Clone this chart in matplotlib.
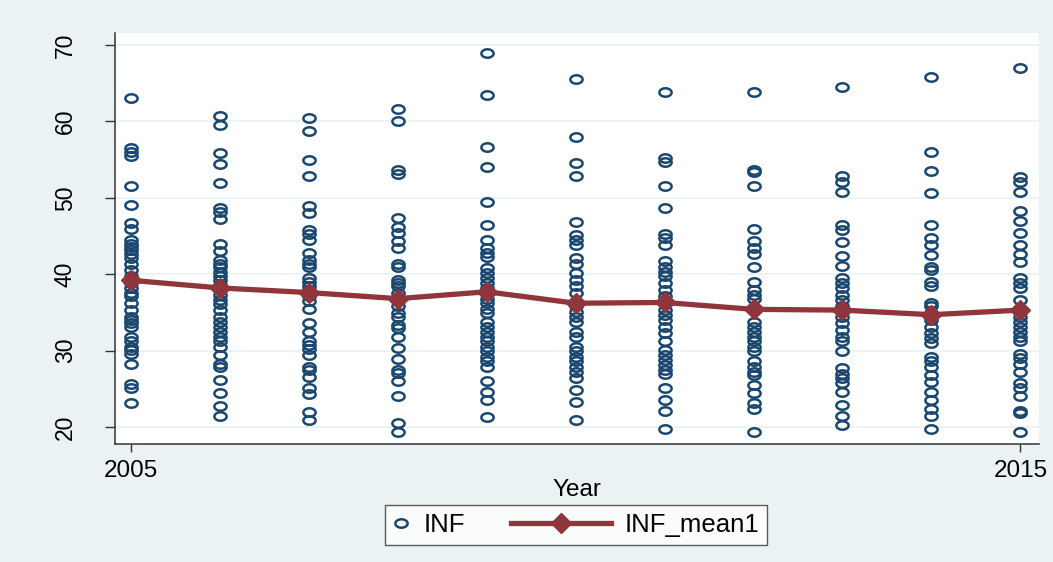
import matplotlib
matplotlib.use("Agg")
import matplotlib.pyplot as plt
import numpy as np
from matplotlib.path import Path
from matplotlib.legend_handler import HandlerLine2D

years = [2005, 2006, 2007, 2008, 2009, 2010, 2011, 2012, 2013, 2014, 2015]

inf_2005 = [63.1, 56.5, 56.0, 55.5, 51.5, 49.0, 46.7, 45.9, 44.5, 44.0, 43.6, 43.2, 42.7,
            42.1, 41.4, 40.5, 39.7, 38.8, 38.2, 37.5, 37.1, 36.2, 35.3, 34.4, 34.0, 33.6,
            33.1, 31.8, 31.2, 30.5, 30.1, 29.6, 28.2, 25.6, 25.1, 23.1]
inf_2006 = [60.7, 59.5, 55.8, 54.4, 52.0, 48.6, 48.2, 47.2, 43.9, 43.0, 41.9, 41.4, 40.9,
            40.3, 39.7, 39.2, 38.6, 37.9, 37.3, 36.6, 36.1, 35.3, 34.4, 33.8, 33.1, 32.5,
            31.8, 31.2, 30.5, 29.4, 28.3, 27.9, 26.2, 24.5, 22.7, 21.4]
inf_2007 = [60.4, 58.7, 54.9, 52.8, 48.9, 48.0, 45.8, 45.3, 44.5, 42.8, 41.9, 41.4, 40.9,
            39.5, 39.0, 38.5, 37.9, 37.1, 36.5, 35.4, 33.6, 32.5, 31.2, 30.7, 30.2, 29.4,
            27.9, 27.5, 26.6, 25.1, 24.3, 22.0, 20.9]
inf_2008 = [61.6, 60.1, 53.6, 53.1, 47.3, 46.2, 45.4, 44.3, 43.4, 41.4, 40.9, 39.2, 38.8,
            38.4, 37.5, 36.6, 35.8, 34.9, 34.4, 33.4, 32.9, 31.8, 30.3, 28.9, 27.4, 27.1,
            26.0, 24.1, 20.5, 19.4]
inf_2009 = [69.0, 63.5, 56.6, 54.0, 49.5, 46.4, 44.5, 43.4, 42.8, 42.2, 40.8, 40.1, 39.5,
            38.8, 38.2, 37.5, 36.8, 36.2, 35.5, 34.9, 33.8, 33.1, 32.5, 31.8, 31.2, 30.5,
            29.9, 29.2, 28.6, 27.9, 26.0, 24.6, 23.5, 21.3]
inf_2010 = [65.6, 58.0, 54.5, 52.9, 46.8, 45.1, 44.5, 43.8, 42.1, 41.4, 40.1, 39.2, 38.4,
            37.5, 35.8, 35.1, 34.4, 33.8, 32.5, 31.8, 30.5, 29.9, 29.2, 28.6, 27.9, 27.2,
            26.4, 24.8, 23.3, 20.9]
inf_2011 = [63.9, 55.2, 54.7, 51.5, 48.6, 45.3, 44.7, 43.8, 41.7, 41.0, 40.3, 39.7, 38.8,
            37.9, 37.1, 35.3, 34.7, 34.0, 33.1, 32.3, 31.2, 30.1, 29.4, 28.8, 28.1, 27.5,
            27.0, 25.1, 23.5, 22.1, 19.8]
inf_2012 = [63.8, 53.7, 53.4, 51.6, 45.9, 44.4, 43.4, 42.6, 41.0, 39.0, 37.9, 37.3, 36.7,
            33.8, 33.1, 32.5, 31.8, 31.2, 30.5, 29.9, 28.6, 27.9, 27.2, 26.8, 25.5, 24.4,
            23.1, 22.3, 19.3]
inf_2013 = [64.5, 52.8, 52.1, 50.7, 46.5, 45.8, 44.2, 42.4, 41.1, 39.5, 38.8, 38.2, 37.3,
            36.6, 35.8, 34.4, 33.6, 32.7, 31.8, 31.2, 29.9, 27.7, 27.0, 26.4, 25.7, 24.6,
            22.9, 21.4, 20.3]
inf_2014 = [65.8, 56.0, 53.5, 50.6, 46.4, 44.8, 43.8, 42.5, 41.0, 40.5, 39.0, 38.4, 36.2,
            35.8, 34.9, 34.0, 33.1, 32.3, 31.6, 31.0, 29.2, 28.6, 27.9, 26.8, 25.9, 24.6,
            23.5, 22.4, 21.4, 19.7]
inf_2015 = [67.0, 52.7, 52.1, 50.7, 48.3, 47.0, 45.4, 43.8, 42.7, 41.6, 39.5, 38.8, 38.2,
            36.6, 35.1, 34.4, 33.8, 33.1, 32.5, 31.8, 31.2, 29.6, 29.0, 28.3, 27.2, 25.8,
            25.1, 24.1, 22.1, 21.8, 19.3]

inf_by_year = [inf_2005, inf_2006, inf_2007, inf_2008, inf_2009, inf_2010,
               inf_2011, inf_2012, inf_2013, inf_2014, inf_2015]

inf_mean1 = [39.2, 38.2, 37.6, 36.8, 37.7, 36.2, 36.3, 35.4, 35.3, 34.7, 35.3]

y_ticks = [20, 30, 40, 50, 60, 70]
x_ticks = [2005, 2015]

bg = "#eaf2f3"
navy = "#1a476f"
maroon = "#90353b"

plt.rcParams['font.family'] = ['Liberation Sans', 'DejaVu Sans']


class LongLineHandler(HandlerLine2D):
    # draws the line further to the left than the (short) handle box
    def __init__(self, extra, **kw):
        super().__init__(**kw)
        self.extra = extra

    def create_artists(self, legend, orig_handle, xdescent, ydescent, width,
                       height, fontsize, trans):
        return super().create_artists(legend, orig_handle, xdescent + self.extra,
                                      ydescent, width + self.extra, height,
                                      fontsize, trans)


# picture looks stretched sideways, so use a wide ellipse for the hollow circles
t = np.linspace(0, 2 * np.pi, 40)
ellipse = Path(np.column_stack([1.45 * np.cos(t), np.sin(t)]), closed=True)

fig = plt.figure(figsize=(10.53, 5.62), dpi=100, facecolor=bg)
ax = fig.add_axes([0.1092, 0.21, 0.8775, 0.7313])
ax.set_facecolor("white")

xs = np.concatenate([np.full(len(v), yr) for yr, v in zip(years, inf_by_year)])
ys = np.concatenate(inf_by_year)
pts, = ax.plot(xs, ys, linestyle="none", marker=ellipse, markersize=8.8,
               markerfacecolor="none", markeredgecolor=navy, markeredgewidth=1.8,
               label="INF", zorder=3)
mean_line, = ax.plot(years, inf_mean1, color=maroon, linewidth=3.8, marker="D",
                     markersize=10, markerfacecolor=maroon, markeredgecolor=maroon,
                     label="INF_mean1", zorder=4)

ax.set_xlim(2004.82, 2015.21)
ax.set_ylim(17.78, 71.57)
ax.set_xticks(x_ticks)
ax.set_yticks(y_ticks)
ax.yaxis.grid(True, color=bg, linewidth=1.3)
ax.set_axisbelow(True)

for s in ["top", "right"]:
    ax.spines[s].set_visible(False)
for s in ["left", "bottom"]:
    ax.spines[s].set_color("#333333")
    ax.spines[s].set_linewidth(1.1)

ax.tick_params(axis="y", length=7.5, width=1.0, color="#333333", pad=20,
               labelsize=16.5, labelrotation=90)
for lab in ax.get_yticklabels():
    lab.set_va("center")
ax.tick_params(axis="x", length=5.5, width=1.0, color="#333333", pad=6,
               labelsize=17.5)
ax.set_xlabel("Year", fontsize=17.5, labelpad=-2)

fs = 18.5
leg = ax.legend(handles=[pts, mean_line], loc="center",
                bbox_to_anchor=(0.547, 0.066), bbox_transform=fig.transFigure,
                ncol=2, fontsize=fs, frameon=True, fancybox=False,
                edgecolor="#333333", handlelength=0.66, columnspacing=5.0,
                handletextpad=0.55, borderpad=0.3, borderaxespad=0,
                handler_map={mean_line: LongLineHandler(extra=59.8, numpoints=1)})
leg.get_frame().set_linewidth(1.0)

fig.savefig("out.png", dpi=100, facecolor=bg)
